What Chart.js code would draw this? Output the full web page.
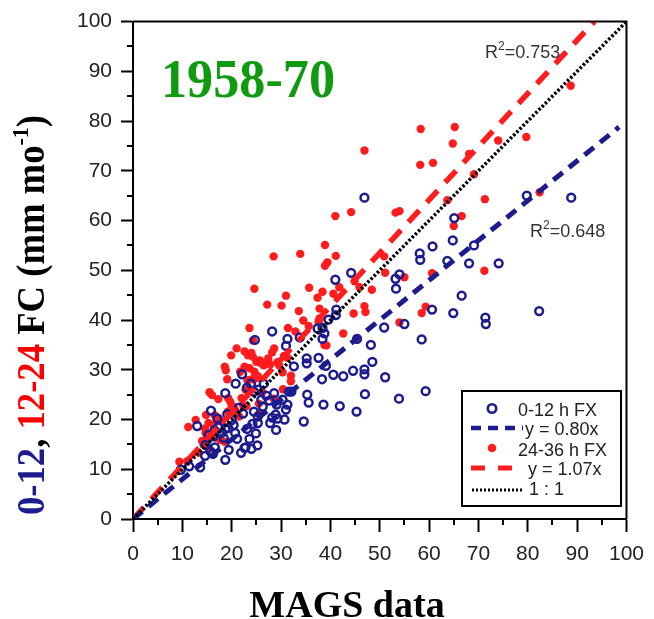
<!DOCTYPE html>
<html>
<head>
<meta charset="utf-8">
<script src="https://cdn.jsdelivr.net/npm/chart.js@4.4.1/dist/chart.umd.min.js"></script>
<style>
  html, body { margin: 0; padding: 0; background: #fff; }
  #wrap { width: 654px; height: 619px; }
</style>
</head>
<body>
<div id="wrap"><canvas id="fc" width="654" height="619"></canvas></div>
<script>
// 0-12 h forecast vs MAGS (open blue circles)
const blueX = [
  9.7, 11.4, 13.6, 14.6, 15.7, 16.2, 16.6, 14.7, 13.0, 15.8,
  16.3, 17.3, 16.5, 18.0, 18.4, 18.7, 18.7, 18.7, 19.4, 20.0,
  20.4, 19.1, 20.8, 21.5, 21.9, 22.1, 22.3, 22.8, 23.1, 23.1,
  23.9, 24.2, 24.5, 24.7, 24.9, 25.2, 25.3, 25.3, 25.3, 26.0,
  26.3, 27.0, 27.6, 28.2, 28.2, 28.6, 28.9, 29.0, 29.1, 29.3,
  30.3, 31.3, 31.0, 31.0, 31.3, 31.6, 32.1, 32.6, 33.8, 34.6,
  35.2, 35.2, 35.3, 35.6, 37.4, 37.6, 38.3, 38.4, 38.4, 38.6,
  38.8, 39.1, 39.6, 40.6, 41.0, 41.1, 41.2, 41.9, 42.6, 44.2,
  44.6, 45.3, 45.4, 46.9, 46.9, 46.9, 47.0, 48.2, 48.5, 50.9,
  51.1, 53.2, 53.3, 53.9, 54.0, 55.0, 58.1, 58.2, 58.5, 59.3,
  60.6, 60.7, 63.7, 64.8, 64.9, 65.1, 66.6, 68.1, 69.1, 71.4,
  71.5, 74.1, 79.8, 82.3, 88.8, 15.3, 17.1, 21.1, 23.6, 24.5,
  26.5, 27.8, 30.7, 20.7, 22.6, 24.0, 19.3
];
const blueY = [
  9.9, 10.6, 10.4, 12.7, 13.6, 13.1, 14.4, 14.9, 18.7, 21.8,
  16.6, 18.4, 17.8, 17.3, 16.3, 18.1, 25.3, 11.9, 13.9, 19.9,
  18.9, 21.1, 27.2, 22.4, 13.3, 29.1, 21.2, 14.4, 18.1, 26.4,
  27.2, 19.1, 21.6, 36.0, 17.2, 14.8, 26.0, 20.6, 19.3, 24.0,
  22.6, 24.8, 23.8, 20.4, 37.7, 25.3, 21.0, 17.9, 23.0, 20.2,
  24.0, 23.0, 22.0, 34.8, 36.2, 25.6, 25.6, 30.7, 36.5, 19.6,
  31.3, 32.3, 25.0, 23.4, 38.3, 32.4, 28.1, 38.4, 36.2, 23.0,
  37.3, 30.8, 40.1, 29.0, 48.1, 41.0, 42.1, 22.7, 28.7, 49.5,
  29.8, 21.6, 36.2, 64.6, 30.1, 29.1, 25.1, 35.0, 31.6, 38.5,
  28.5, 48.3, 46.3, 24.2, 49.2, 39.2, 53.4, 52.1, 36.1, 25.7,
  42.1, 54.8, 51.9, 56.0, 41.4, 60.5, 44.9, 51.4, 55.0, 40.5,
  39.2, 51.4, 65.0, 41.8, 64.6, 16.9, 20.2, 16.1, 16.1, 25.6,
  27.2, 19.3, 20.0, 17.3, 14.3, 14.1, 18.3
];

// 24-36 h forecast vs MAGS (filled red dots)
const redX = [
  9.4, 11.0, 11.2, 12.7, 13.3, 14.3, 15.3, 14.0, 14.6, 14.7,
  15.9, 16.8, 17.7, 18.6, 15.3, 16.3, 14.8, 16.6, 17.3, 18.0,
  19.3, 20.7, 20.3, 22.3, 15.5, 16.0, 17.3, 19.3, 19.7, 22.0,
  21.5, 23.0, 25.5, 25.5, 28.5, 19.1, 18.8, 18.6, 21.7, 22.6,
  23.6, 24.6, 25.0, 24.1, 19.9, 21.0, 22.6, 23.3, 24.3, 24.0,
  24.3, 23.6, 24.6, 25.0, 26.0, 27.3, 25.7, 26.5, 27.8, 29.3,
  29.6, 30.3, 30.4, 31.3, 30.6, 28.6, 28.2, 27.2, 30.1, 31.0,
  28.5, 31.4, 32.9, 33.6, 33.9, 34.5, 35.6, 35.7, 37.4, 38.4,
  37.8, 37.8, 37.6, 38.8, 32.0, 32.0, 38.9, 39.4, 38.9, 41.1,
  41.0, 40.6, 41.8, 42.6, 44.2, 44.7, 44.9, 45.4, 45.9, 46.9,
  47.1, 48.4, 46.9, 50.9, 51.1, 53.2, 54.0, 54.0, 55.0, 58.3,
  58.2, 58.5, 59.3, 60.8, 60.6, 63.7, 65.2, 64.8, 65.0, 66.6,
  68.1, 69.1, 71.3, 71.2, 74.0, 79.7, 82.4, 88.7, 39.2, 22.8,
  23.2, 25.3, 27.4, 20.0, 26.2
];
const redY = [
  11.5, 11.6, 18.5, 19.9, 13.3, 14.9, 14.3, 15.7, 18.2, 17.3,
  17.1, 16.4, 15.9, 15.5, 19.3, 18.9, 20.9, 20.8, 20.3, 19.6,
  21.6, 21.9, 22.6, 22.9, 25.5, 24.9, 24.1, 24.3, 23.6, 24.3,
  20.6, 22.7, 23.2, 21.1, 24.2, 28.1, 29.9, 30.6, 29.6, 30.6,
  30.3, 29.6, 28.3, 28.1, 32.9, 34.3, 33.7, 32.9, 32.6, 33.4,
  35.9, 38.4, 46.3, 31.6, 31.3, 31.5, 31.9, 30.9, 31.1, 31.5,
  30.9, 29.5, 26.1, 32.4, 32.8, 34.3, 33.5, 43.1, 42.9, 44.9,
  52.8, 38.4, 37.7, 41.8, 53.3, 39.9, 38.8, 46.5, 44.5, 45.7,
  42.3, 40.3, 39.6, 35.0, 28.8, 27.7, 55.1, 51.6, 50.9, 52.9,
  60.9, 45.3, 46.6, 37.3, 61.7, 41.3, 47.8, 36.1, 46.6, 42.8,
  41.6, 46.1, 74.1, 52.8, 49.5, 61.6, 61.9, 39.5, 48.6, 78.4,
  71.2, 41.4, 42.7, 71.6, 49.4, 64.1, 78.8, 75.5, 58.9, 60.9,
  73.4, 69.3, 64.3, 49.9, 76.1, 76.8, 65.7, 87.1, 34.9, 26.0,
  27.9, 28.7, 32.3, 22.8, 25.5
];

// fitted lines (end points) and the 1:1 line
const blueFitX = [0, 98.5];
const blueFitY = [0, 78.8];
const redFitX = [0, 93.5];
const redFitY = [0, 100];
const oneX = [0, 100];
const oneY = [0, 100];

const xTicks = [0, 10, 20, 30, 40, 50, 60, 70, 80, 90, 100];
const yTicks = [0, 10, 20, 30, 40, 50, 60, 70, 80, 90, 100];

const NAVY = "#1c1c8f";
const RED = "#ff1c1c";
const SANS = '"Liberation Sans", Arial, sans-serif';
const SERIF = '"Liberation Serif", "Times New Roman", serif';

const zip = (xs, ys) => xs.map((x, i) => ({ x, y: ys[i] }));

// minor ticks, frame, titles, R2 notes and the boxed legend
const decorations = {
  id: "decorations",
  afterDraw(chart) {
    const { ctx, chartArea: a, scales } = chart;
    const xs = scales.x, ys = scales.y;
    ctx.save();
    ctx.strokeStyle = "#000";
    ctx.lineWidth = 2;
    ctx.beginPath();
    for (let v = 5; v < 100; v += 10) {
      const px = Math.round(xs.getPixelForValue(v));
      ctx.moveTo(px, a.bottom); ctx.lineTo(px, a.bottom + 6);
      const py = Math.round(ys.getPixelForValue(v));
      ctx.moveTo(a.left - 6, py); ctx.lineTo(a.left, py);
    }
    // top and right sides of the frame
    ctx.moveTo(a.left, a.top); ctx.lineTo(a.right, a.top); ctx.lineTo(a.right, a.bottom);
    ctx.stroke();

    // title
    ctx.font = "bold 55px " + SERIF;
    const tw = ctx.measureText("1958-70").width;
    ctx.save();
    ctx.translate(161, 97);
    ctx.scale(174 / tw, 1);
    ctx.fillStyle = "#109a10";
    ctx.textBaseline = "alphabetic";
    ctx.fillText("1958-70", 0, 0);
    ctx.restore();

    // x axis title
    ctx.font = "bold 38px " + SERIF;
    ctx.fillStyle = "#000";
    ctx.textAlign = "center";
    ctx.fillText("MAGS data", 347, 617);
    ctx.textAlign = "left";

    // y axis title, multi-coloured, rotated
    const parts = [
      { t: "0-12", c: NAVY },
      { t: ", ", c: "#000" },
      { t: "12-24", c: "#ff0000" },
      { t: " FC (mm mo", c: "#000" },
      { t: "-1", c: "#000", sup: true },
      { t: ")", c: "#000" }
    ];
    const mainF = "bold 40px " + SERIF, supF = "bold 24px " + SERIF;
    let total = 0;
    parts.forEach(p => { ctx.font = p.sup ? supF : mainF; p.w = ctx.measureText(p.t).width; total += p.w; });
    ctx.save();
    ctx.translate(44, 315);
    ctx.rotate(-Math.PI / 2);
    ctx.scale(400 / total, 1);
    let cx = -total / 2;
    parts.forEach(p => {
      ctx.font = p.sup ? supF : mainF;
      ctx.fillStyle = p.c;
      ctx.fillText(p.t, cx, p.sup ? -16 : 0);
      cx += p.w;
    });
    ctx.restore();

    // R squared notes
    const r2 = (x, y, val) => {
      ctx.fillStyle = "#333";
      ctx.font = "18px " + SANS;
      ctx.fillText("R", x, y);
      const w1 = ctx.measureText("R").width;
      ctx.font = "12px " + SANS;
      ctx.fillText("2", x + w1, y - 8);
      const w2 = ctx.measureText("2").width;
      ctx.font = "18px " + SANS;
      ctx.fillText("=" + val, x + w1 + w2, y);
    };
    r2(485, 58, "0.753");
    r2(530, 237, "0.648");

    // legend
    ctx.fillStyle = "#fff";
    ctx.fillRect(462, 391, 159, 115);
    ctx.strokeStyle = "#000";
    ctx.lineWidth = 2;
    ctx.strokeRect(462, 391, 159, 115);

    ctx.lineWidth = 2.6;
    ctx.strokeStyle = NAVY;
    ctx.beginPath(); ctx.arc(492, 408.5, 4.2, 0, Math.PI * 2); ctx.stroke();
    ctx.fillStyle = RED;
    ctx.beginPath(); ctx.arc(492, 448, 4.3, 0, Math.PI * 2); ctx.fill();

    const seg = (x0, x1, y, color, w, dash) => {
      ctx.save();
      ctx.strokeStyle = color; ctx.lineWidth = w; ctx.setLineDash(dash);
      ctx.beginPath(); ctx.moveTo(x0, y); ctx.lineTo(x1, y); ctx.stroke();
      ctx.restore();
    };
    seg(471, 523, 428, NAVY, 4.5, [10, 7]);
    seg(471, 513, 468, RED, 5, [14, 13]);
    seg(472, 523, 490, "#000", 3, [2, 2]);

    ctx.fillStyle = "#222";
    ctx.font = "18px " + SANS;
    ctx.fillText("0-12 h FX", 518, 415.5);
    ctx.fillText("y = 0.80x", 525, 435);
    ctx.fillText("24-36 h FX", 518, 455.5);
    ctx.fillText("y = 1.07x", 528, 475);
    ctx.fillText("1 : 1", 529, 495);
    ctx.restore();
  }
};

new Chart(document.getElementById("fc"), {
  type: "scatter",
  data: {
    datasets: [
      { label: "1 : 1", type: "line", data: zip(oneX, oneY), borderColor: "#000", borderWidth: 3.5,
        borderDash: [2.5, 2], pointRadius: 0, fill: false, order: 1 },
      { label: "y = 0.80x", type: "line", data: zip(blueFitX, blueFitY), borderColor: NAVY, borderWidth: 5,
        borderDash: [12, 8], pointRadius: 0, fill: false, order: 2 },
      { label: "y = 1.07x", type: "line", data: zip(redFitX, redFitY), borderColor: RED, borderWidth: 5.5,
        borderDash: [16, 11], pointRadius: 0, fill: false, order: 3 },
      { label: "0-12 h FX", data: zip(blueX, blueY), pointStyle: "circle", pointRadius: 3.9,
        borderWidth: 2.5, borderColor: NAVY, backgroundColor: "rgba(0,0,0,0)", order: 4 },
      { label: "24-36 h FX", data: zip(redX, redY), pointStyle: "circle", pointRadius: 4.2,
        borderWidth: 0, backgroundColor: RED, order: 5 }
    ]
  },
  options: {
    responsive: false,
    animation: false,
    devicePixelRatio: 1,
    layout: { padding: { top: 19, right: 19, left: 0, bottom: 0 } },
    plugins: { legend: { display: false }, tooltip: { enabled: false } },
    scales: {
      x: {
        type: "linear", min: 0, max: 100,
        afterFit: s => { s.height = 100; },
        afterBuildTicks: s => { s.ticks = xTicks.map(v => ({ value: v })); },
        ticks: { font: { family: SANS, size: 21 }, color: "#222", padding: 10, maxRotation: 0 },
        grid: { drawOnChartArea: false, tickLength: 13, tickWidth: 2, tickColor: "#000" },
        border: { display: true, color: "#000", width: 2 }
      },
      y: {
        type: "linear", min: 0, max: 100,
        afterFit: s => { s.width = 133; },
        afterBuildTicks: s => { s.ticks = yTicks.map(v => ({ value: v })); },
        ticks: { font: { family: SANS, size: 21 }, color: "#222", padding: 9 },
        grid: { drawOnChartArea: false, tickLength: 12, tickWidth: 2, tickColor: "#000" },
        border: { display: true, color: "#000", width: 2 }
      }
    }
  },
  plugins: [decorations]
});
</script>
</body>
</html>
